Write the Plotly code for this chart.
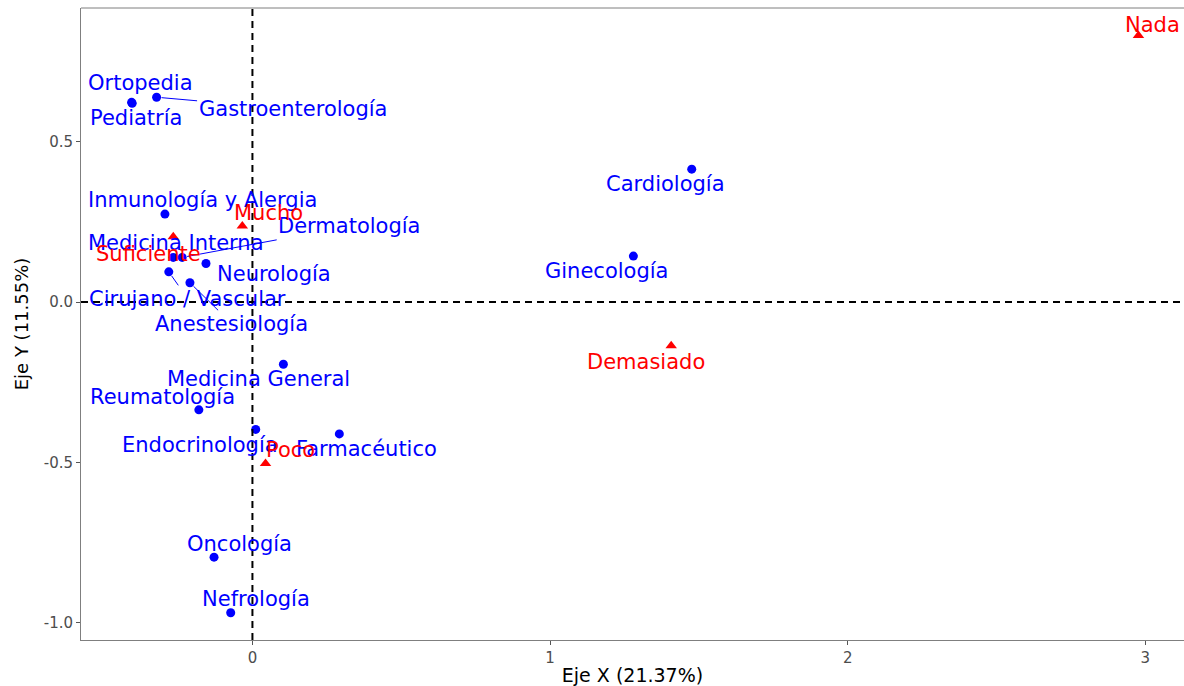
import plotly.graph_objects as go

# ---- data ----
esp_names = ["Ortopedia", "Pediatría", "Gastroenterología", "Inmunología y Alergia",
             "Medicina Interna", "Dermatología", "Neurología", "Cirujano / Vascular",
             "Anestesiología", "Cardiología", "Ginecología", "Medicina General",
             "Reumatología", "Endocrinología", "Farmacéutico", "Oncología", "Nefrología"]
esp_x = [-0.406, -0.404, -0.322, -0.294, -0.266, -0.236, -0.156, -0.281,
         -0.210, 1.476, 1.280, 0.104, -0.180, 0.011, 0.292, -0.129, -0.073]
esp_y = [0.622, 0.619, 0.638, 0.274, 0.139, 0.139, 0.120, 0.094,
         0.060, 0.414, 0.143, -0.194, -0.336, -0.397, -0.411, -0.795, -0.968]

mod_names = ["Nada", "Mucho", "Suficiente", "Demasiado", "Poco"]
mod_x = [2.977, -0.034, -0.266, 1.407, 0.044]
mod_y = [0.830, 0.237, 0.203, -0.136, -0.503]

x_ticks = [0, 1, 2, 3]
y_ticks = [-1.0, -0.5, 0.0, 0.5]
x_title = "Eje X (21.37%)"
y_title = "Eje Y (11.55%)"

# ---- label placement (pixel offsets of label centre from its point; seg = leader line) ----
esp_lab = {
    "Ortopedia": (9, -19, False), "Pediatría": (4, 15, False),
    "Gastroenterología": (136, 12, True), "Inmunología y Alergia": (38, -14, False),
    "Medicina Interna": (3, -14, False), "Dermatología": (167, -31, True),
    "Neurología": (68, 10, False), "Cirujano / Vascular": (19, 27, True),
    "Anestesiología": (42, 41, True), "Cardiología": (-26, 15, False),
    "Ginecología": (-27, 15, False), "Medicina General": (-25, 15, False),
    "Reumatología": (-36, -13, False), "Endocrinología": (-56, 16, False),
    "Farmacéutico": (27, 15, False), "Oncología": (25, -13, False),
    "Nefrología": (25, -14, False),
}
mod_lab = {"Nada": (14, -11), "Mucho": (26, -13), "Suficiente": (-25, 17),
           "Demasiado": (-25, 16), "Poco": (25, -13)}

BLUE = "#0000FF"
RED = "#FF0000"
LFONT = "DejaVu Sans"
LSIZE = 21

fig = go.Figure()
fig.add_trace(go.Scatter(x=esp_x, y=esp_y, mode="markers", name="esp",
                         marker=dict(color=BLUE, size=9, symbol="circle"),
                         hoverinfo="text", text=esp_names))
fig.add_trace(go.Scatter(x=mod_x, y=mod_y, mode="markers", name="mod",
                         marker=dict(color=RED, size=10, symbol="triangle-up"),
                         hoverinfo="text", text=mod_names))

annotations = []
for n, x, y in zip(esp_names, esp_x, esp_y):
    dx, dy, seg = esp_lab[n]
    if seg:
        annotations.append(dict(x=x, y=y, text=n, showarrow=True, ax=dx, ay=dy,
                                arrowhead=0, arrowwidth=1, arrowcolor=BLUE, standoff=5,
                                font=dict(family=LFONT, size=LSIZE, color=BLUE)))
    else:
        annotations.append(dict(x=x, y=y, text=n, showarrow=False, xshift=dx, yshift=-dy,
                                font=dict(family=LFONT, size=LSIZE, color=BLUE)))
for n, x, y in zip(mod_names, mod_x, mod_y):
    dx, dy = mod_lab[n]
    annotations.append(dict(x=x, y=y, text=n, showarrow=False, xshift=dx, yshift=-dy,
                            font=dict(family=LFONT, size=LSIZE, color=RED)))

shapes = [
    dict(type="line", xref="x", yref="paper", x0=0, x1=0, y0=0, y1=1,
         line=dict(color="black", width=2, dash="7px,5px"), layer="above"),
    dict(type="line", xref="paper", yref="y", x0=0, x1=1, y0=0, y1=0,
         line=dict(color="black", width=2, dash="7px,5px"), layer="above"),
    # top border of the panel
    dict(type="line", xref="paper", yref="paper", x0=0, x1=1, y0=1, y1=1,
         line=dict(color="#7f7f7f", width=1), layer="above"),
]

fig.update_layout(
    width=1184, height=686,
    margin=dict(l=81, r=0, t=8, b=46),
    paper_bgcolor="white", plot_bgcolor="white",
    showlegend=False,
    annotations=annotations, shapes=shapes,
    font=dict(family=LFONT),
)
fig.update_xaxes(range=[-0.576, 3.13], tickvals=x_ticks, ticktext=[str(v) for v in x_ticks],
                 showgrid=False, zeroline=False, showline=True, mirror=False,
                 linecolor="#7f7f7f", linewidth=1, ticks="outside", ticklen=4,
                 tickcolor="#555555", tickfont=dict(family=LFONT, size=15, color="#4d4d4d"),
                 title=dict(text=x_title, font=dict(family=LFONT, size=19, color="black"),
                            standoff=6))
fig.update_yaxes(range=[-1.053, 0.916], tickvals=y_ticks,
                 ticktext=["%.1f" % v for v in y_ticks],
                 showgrid=False, zeroline=False, showline=True, mirror=False,
                 linecolor="#7f7f7f", linewidth=1, ticks="outside", ticklen=4,
                 tickcolor="#555555", tickfont=dict(family=LFONT, size=15, color="#4d4d4d"),
                 title=dict(text=y_title, font=dict(family=LFONT, size=18, color="black"),
                            standoff=10))

fig.write_html("out.html")
